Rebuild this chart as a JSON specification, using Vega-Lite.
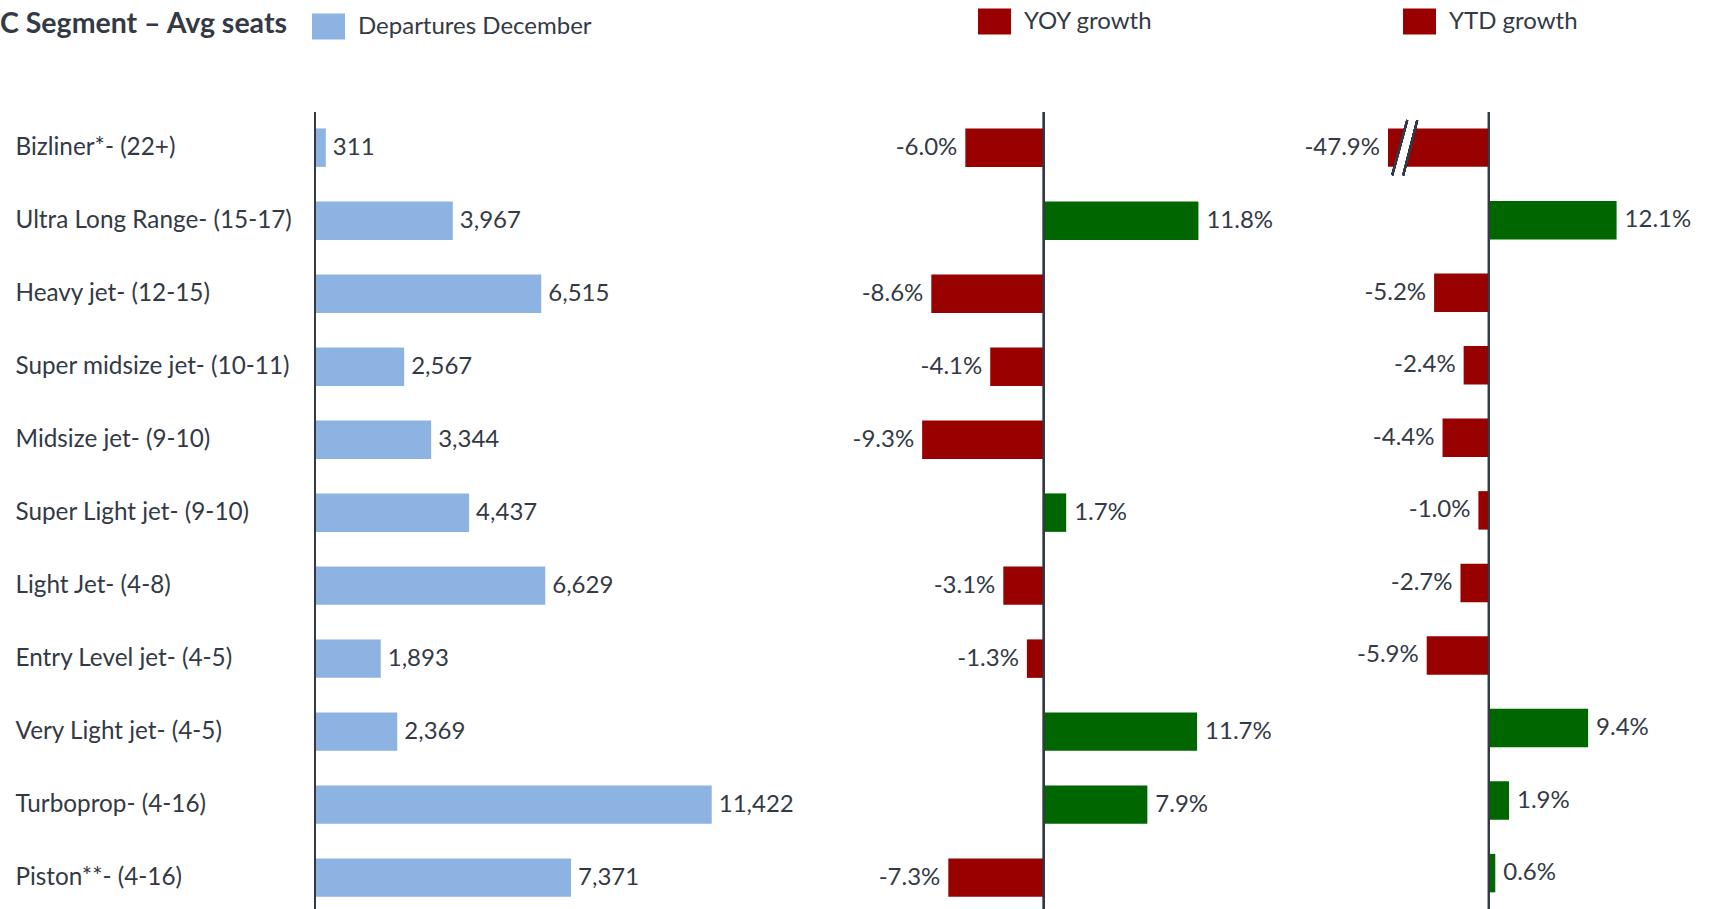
{
  "$schema": "https://vega.github.io/schema/vega-lite/v6.json",
  "padding": {"left": 0, "top": 5, "right": 0, "bottom": 0},
  "bounds": "flush",
  "spacing": 11.5,
  "background": "white",
  "config": {
    "view": {"stroke": null},
    "font": "Lato",
    "locale": {"number": {"decimal": ".", "thousands": ",", "grouping": [3], "currency": ["$", ""], "minus": "-"}},
    "text": {"font": "Lato", "fontSize": 24, "color": "#333a45", "baseline": "middle"},
    "legend": {
      "title": null,
      "orient": "none",
      "padding": 0,
      "symbolType": "M-1,-0.79H1V0.79H-1Z",
      "symbolSize": 1089,
      "symbolStrokeWidth": 0,
      "symbolOpacity": 1,
      "labelFont": "Lato",
      "labelFontSize": 24,
      "labelColor": "#333a45",
      "labelOffset": 13,
      "labelLimit": 0
    }
  },
  "data": {
    "values": [
      {"segment": "Bizliner*- (22+)", "departures": 311, "yoy": -0.060, "ytd": -0.479},
      {"segment": "Ultra Long Range- (15-17)", "departures": 3967, "yoy": 0.118, "ytd": 0.121},
      {"segment": "Heavy jet- (12-15)", "departures": 6515, "yoy": -0.086, "ytd": -0.052},
      {"segment": "Super midsize jet- (10-11)", "departures": 2567, "yoy": -0.041, "ytd": -0.024},
      {"segment": "Midsize jet- (9-10)", "departures": 3344, "yoy": -0.093, "ytd": -0.044},
      {"segment": "Super Light jet- (9-10)", "departures": 4437, "yoy": 0.017, "ytd": -0.010},
      {"segment": "Light Jet- (4-8)", "departures": 6629, "yoy": -0.031, "ytd": -0.027},
      {"segment": "Entry Level jet- (4-5)", "departures": 1893, "yoy": -0.013, "ytd": -0.059},
      {"segment": "Very Light jet- (4-5)", "departures": 2369, "yoy": 0.117, "ytd": 0.094},
      {"segment": "Turboprop- (4-16)", "departures": 11422, "yoy": 0.079, "ytd": 0.019},
      {"segment": "Piston**- (4-16)", "departures": 7371, "yoy": -0.073, "ytd": 0.006}
    ]
  },
  "resolve": {
    "scale": {"color": "independent", "x": "independent", "y": "independent"},
    "legend": {"color": "independent"}
  },
  "hconcat": [
    {
      "width": 521,
      "height": 797,
      "title": {
        "text": "C Segment – Avg seats",
        "anchor": "start",
        "frame": "group",
        "dx": -315,
        "offset": -28,
        "font": "Lato",
        "fontSize": 28.5,
        "fontWeight": "bold",
        "color": "#333a45"
      },
      "layer": [
        {
          "mark": {"type": "bar"},
          "encoding": {
            "y": {
              "field": "segment", "type": "nominal", "sort": null,
              "scale": {"paddingInner": 0.473, "paddingOuter": 0.1955, "align": 0.575},
              "axis": {
                "title": null, "domain": false, "ticks": false, "tickSize": 0, "grid": false,
                "labelAlign": "left", "labelPadding": 300, "labelFont": "Lato",
                "labelFontSize": 24.3, "labelColor": "#333a45", "labelLimit": 0
              }
            },
            "x": {"field": "departures", "type": "quantitative", "scale": {"domain": [0, 15000], "nice": false, "zero": false}, "axis": null},
            "color": {
              "datum": "Departures December",
              "scale": {"range": ["#8DB3E2"]},
              "legend": {"legendX": -3, "legendY": -102}
            }
          }
        },
        {
          "mark": {"type": "text", "align": "left", "dx": 7},
          "encoding": {
            "y": {"field": "segment", "type": "nominal", "sort": null},
            "x": {"field": "departures", "type": "quantitative"},
            "text": {"field": "departures", "type": "quantitative", "format": ","}
          }
        },
        {
          "mark": {"type": "rule", "color": "#333a45", "strokeWidth": 2},
          "encoding": {"x": {"datum": 0}}
        }
      ]
    },
    {
      "width": 529,
      "height": 797,
      "layer": [
        {
          "mark": {"type": "bar"},
          "encoding": {
            "y": {
              "field": "segment", "type": "nominal", "sort": null,
              "scale": {"paddingInner": 0.473, "paddingOuter": 0.1955, "align": 0.575},
              "axis": null
            },
            "x": {"field": "yoy", "type": "quantitative", "scale": {"domain": [-0.15, 0.254], "nice": false, "zero": false}, "axis": null},
            "color": {
              "condition": {"test": "datum.yoy > 0", "value": "#006600"},
              "datum": "YOY growth",
              "scale": {"range": ["#990000"]},
              "legend": {"legendX": 130.5, "legendY": -107}
            }
          }
        },
        {
          "transform": [{"filter": "datum.yoy >= 0"}],
          "mark": {"type": "text", "align": "left", "dx": 8},
          "encoding": {
            "y": {"field": "segment", "type": "nominal", "sort": null},
            "x": {"field": "yoy", "type": "quantitative"},
            "text": {"field": "yoy", "type": "quantitative", "format": ".1%"}
          }
        },
        {
          "transform": [{"filter": "datum.yoy < 0"}],
          "mark": {"type": "text", "align": "right", "dx": -8},
          "encoding": {
            "y": {"field": "segment", "type": "nominal", "sort": null},
            "x": {"field": "yoy", "type": "quantitative"},
            "text": {"field": "yoy", "type": "quantitative", "format": ".1%"}
          }
        },
        {
          "mark": {"type": "rule", "color": "#333a45", "strokeWidth": 2},
          "encoding": {"x": {"datum": 0}}
        }
      ]
    },
    {
      "width": 321,
      "height": 797,
      "layer": [
        {
          "mark": {"type": "bar"},
          "encoding": {
            "y": {
              "field": "segment", "type": "nominal", "sort": null,
              "scale": {"paddingInner": 0.4697, "paddingOuter": 0.2278, "align": 0.496},
              "axis": null
            },
            "x": {"field": "ytd", "type": "quantitative", "scale": {"domain": [-0.0957, 0.2086], "nice": false, "zero": false, "clamp": true}, "axis": null},
            "color": {
              "condition": {"test": "datum.ytd > 0", "value": "#006600"},
              "datum": "YTD growth",
              "scale": {"range": ["#990000"]},
              "legend": {"legendX": 15, "legendY": -107}
            }
          }
        },
        {
          "transform": [{"filter": "datum.ytd >= 0"}],
          "mark": {"type": "text", "align": "left", "dx": 8},
          "encoding": {
            "y": {"field": "segment", "type": "nominal", "sort": null},
            "x": {"field": "ytd", "type": "quantitative"},
            "text": {"field": "ytd", "type": "quantitative", "format": ".1%"}
          }
        },
        {
          "transform": [{"filter": "datum.ytd < 0"}],
          "mark": {"type": "text", "align": "right", "dx": -8},
          "encoding": {
            "y": {"field": "segment", "type": "nominal", "sort": null},
            "x": {"field": "ytd", "type": "quantitative"},
            "text": {"field": "ytd", "type": "quantitative", "format": ".1%"}
          }
        },
        {
          "mark": {"type": "point", "shape": "M0.082,-1L0.445,-1L-0.064,1L-0.464,1Z", "size": 3025, "filled": true, "color": "white", "opacity": 1, "strokeWidth": 0},
          "encoding": {
            "x": {"datum": -0.0796},
            "y": {"datum": "Bizliner*- (22+)", "type": "nominal"}
          }
        },
        {
          "mark": {"type": "point", "shape": "M0.082,-1L-0.464,1M0.445,-1L-0.064,1", "size": 3025, "filled": false, "color": "#333a45", "opacity": 1, "strokeWidth": 2},
          "encoding": {
            "x": {"datum": -0.0796},
            "y": {"datum": "Bizliner*- (22+)", "type": "nominal"}
          }
        },
        {
          "mark": {"type": "rule", "color": "#333a45", "strokeWidth": 2},
          "encoding": {"x": {"datum": 0}}
        }
      ]
    }
  ]
}
